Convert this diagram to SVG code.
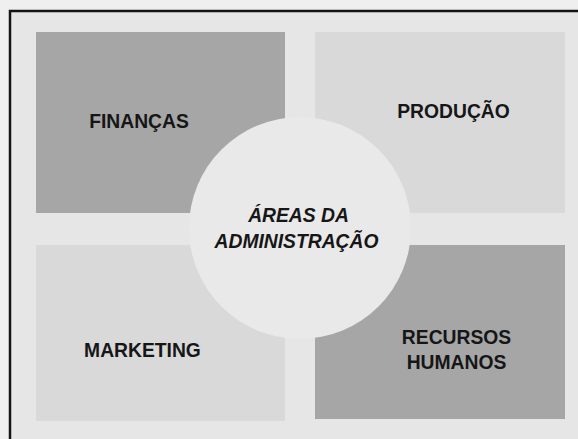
<svg xmlns="http://www.w3.org/2000/svg" width="578" height="439" viewBox="0 0 578 439">
  <style>
    .dark { fill: #a6a6a6; }
    .light { fill: #d9d9d9; }
    .label { font-family: "Liberation Sans", Arial, sans-serif; font-weight: bold; font-size: 19.3px; fill: #161616; text-anchor: middle; }
    .hub { font-style: italic; }
  </style>
  <!-- page and frame -->
  <rect x="0" y="0" width="578" height="439" fill="#efeff0"/>
  <rect x="10" y="11" width="568" height="428" fill="#e6e6e6"/>
  <path d="M10 439 V11 H578" fill="none" stroke="#141414" stroke-width="2.5"/>

  <g id="financas">
    <rect class="dark" x="36" y="32" width="249" height="181"/>
    <text class="label" x="139" y="128">FINANÇAS</text>
  </g>
  <g id="producao">
    <rect class="light" x="315" y="32" width="250" height="181"/>
    <text class="label" x="453.5" y="118">PRODUÇÃO</text>
  </g>
  <g id="marketing">
    <rect class="light" x="36" y="245" width="249" height="176"/>
    <text class="label" x="142.5" y="357">MARKETING</text>
  </g>
  <g id="recursos-humanos">
    <rect class="dark" x="315" y="245" width="250" height="174"/>
    <text class="label" x="456.5" y="344">RECURSOS</text>
    <text class="label" x="456.5" y="369">HUMANOS</text>
  </g>
  <g id="areas-da-administracao">
    <circle cx="300" cy="228" r="111" fill="#e9e9e9"/>
    <text class="label hub" x="298.5" y="222">ÁREAS DA</text>
    <text class="label hub" x="296.5" y="248">ADMINISTRAÇÃO</text>
  </g>
  <g id="connectors"/>
</svg>
